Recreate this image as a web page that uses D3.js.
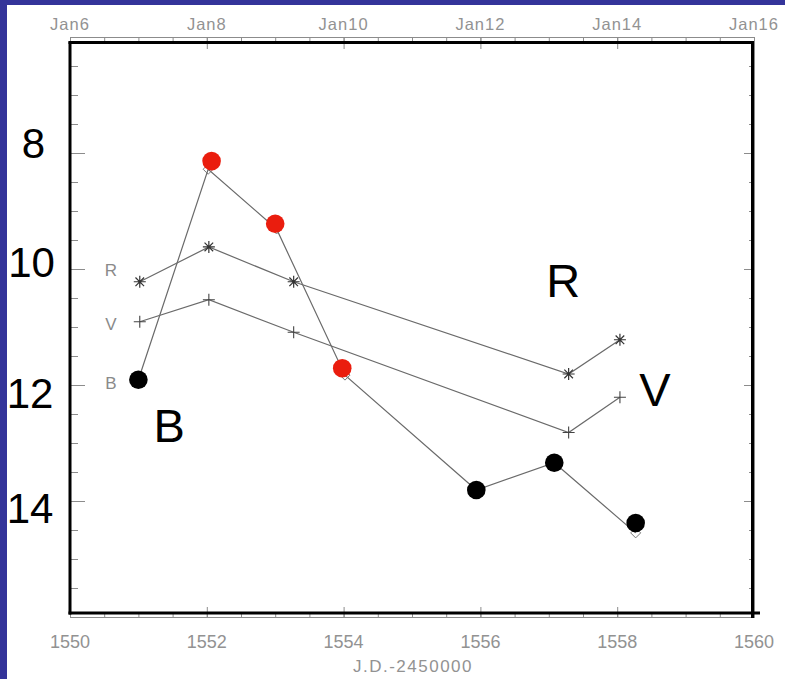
<!DOCTYPE html>
<html><head><meta charset="utf-8">
<script src="https://cdn.jsdelivr.net/npm/d3@7"></script>
<style>html,body{margin:0;padding:0;background:#34349a;}svg{display:block;}text{-webkit-font-smoothing:grayscale;}</style>
</head><body>
<svg id="c" width="785" height="679"></svg>
<script>
// ---- data ----
const xTicks = [1550, 1552, 1554, 1556, 1558, 1560];
const topTickLabels = ["Jan6", "Jan8", "Jan10", "Jan12", "Jan14", "Jan16"];
const yBigLabels = [8, 10, 12, 14];
const rvJD = [1551.02, 1552.03, 1553.27, 1557.29, 1558.04];
const rMag = [10.22, 9.62, 10.22, 11.81, 11.22];
const vMag = [10.91, 10.53, 11.09, 12.82, 12.21];
const bJD  = [1551.0, 1552.02, 1553.02, 1554.02, 1555.94, 1557.08, 1558.27];
const bMag = [11.91, 8.28, 9.31, 11.83, 13.81, 13.34, 14.55];
const dotJD  = [1551.0, 1552.07, 1553.0, 1553.98, 1555.94, 1557.08, 1558.27];
const dotMag = [11.91, 8.14, 9.22, 11.71, 13.81, 13.34, 14.38];
const dotKind = ["black", "red", "red", "red", "black", "black", "black"];
const bandNames = ["R", "V", "B"];
const bandLabelMag = [10.0, 10.93, 11.95];
const bigBandLabels = [["R", 1557.21, 10.48], ["V", 1558.55, 12.36], ["B", 1551.45, 12.98]];

// ---- drawing ----
const svg = d3.select("#c");
svg.append("rect").attr("x", 7).attr("y", 5).attr("width", 778).attr("height", 674).attr("fill", "#fff");

const x = d3.scaleLinear().domain([1550, 1560]).range([70, 754]);
const y = d3.scaleLinear().domain([6, 16]).range([37, 617]);
const gray = "#8c8c8c";
const lineCol = "#6a6a6a";
const tickFont = "Liberation Sans, Arial";
const tickCol = "#929292";

const minor = d3.range(1550, 1560.01, 0.5);
const yMinor = d3.range(6, 16.01, 0.5);

// top axis (original thin axis)
const gTop = svg.append("g").attr("transform", "translate(0,37)");
gTop.call(d3.axisBottom(x).tickValues(minor).tickSize(5).tickFormat(""));
gTop.append("g").call(d3.axisBottom(x).tickValues(xTicks).tickSize(12).tickFormat(""));
gTop.selectAll("path,line").attr("stroke", gray).attr("stroke-width", 1);
svg.append("g").selectAll("text").data(xTicks).join("text")
  .attr("x", d => x(d)).attr("y", 30).attr("text-anchor", "middle")
  .attr("font-family", tickFont).attr("font-size", 16.5).attr("letter-spacing", 1)
  .attr("fill", tickCol).text((d, i) => topTickLabels[i]);

// bottom axis
const gBot = svg.append("g").attr("transform", "translate(0,617)");
gBot.call(d3.axisTop(x).tickValues(minor).tickSize(5).tickFormat(""));
gBot.append("g").call(d3.axisTop(x).tickValues(xTicks).tickSize(10).tickFormat(""));
gBot.selectAll("path,line").attr("stroke", gray).attr("stroke-width", 1);
svg.append("g").selectAll("text").data(xTicks).join("text")
  .attr("x", d => x(d)).attr("y", 648).attr("text-anchor", "middle")
  .attr("font-family", tickFont).attr("font-size", 18)
  .attr("fill", tickCol).text(d => d);
svg.append("text").attr("x", 413).attr("y", 672).attr("text-anchor", "middle")
  .attr("font-family", tickFont).attr("font-size", 17).attr("letter-spacing", 1.5)
  .attr("fill", tickCol).text("J.D.-2450000");

// left/right ticks
const gL = svg.append("g").attr("transform", "translate(70,0)");
gL.call(d3.axisRight(y).tickValues(yMinor.filter(v => v % 2 !== 0)).tickSize(8).tickFormat(""));
gL.append("g").call(d3.axisRight(y).tickValues(d3.range(6, 16.01, 2)).tickSize(15).tickFormat(""));
gL.selectAll("line").attr("stroke", gray);
gL.selectAll("path").remove();
const gR = svg.append("g").attr("transform", "translate(754,0)");
gR.call(d3.axisLeft(y).tickValues(yMinor.filter(v => v % 2 !== 0)).tickSize(5).tickFormat(""));
gR.append("g").call(d3.axisLeft(y).tickValues(d3.range(6, 16.01, 2)).tickSize(10).tickFormat(""));
gR.selectAll("line").attr("stroke", gray);
gR.selectAll("path").attr("stroke", gray);

// thick frame
const fr = svg.append("g").attr("stroke", "#000").attr("stroke-width", 3);
fr.append("line").attr("x1", 70).attr("x2", 70).attr("y1", 41.5).attr("y2", 614.5);
fr.append("line").attr("x1", 68.5).attr("x2", 754).attr("y1", 42.5).attr("y2", 42.5);
fr.append("line").attr("x1", 752.5).attr("x2", 752.5).attr("y1", 41).attr("y2", 618);
fr.append("line").attr("x1", 68.5).attr("x2", 760).attr("y1", 613).attr("y2", 613);

// big y labels
const bigY = [[8, 33.5, 158], [10, 31.5, 277], [12, 30, 408], [14, 30, 523]];
svg.append("g").selectAll("text").data(yBigLabels).join("text")
  .attr("x", (d, i) => bigY[i][1]).attr("y", (d, i) => bigY[i][2])
  .attr("text-anchor", "middle").attr("font-family", "Liberation Sans, Arial")
  .attr("font-size", 42).attr("fill", "#000").text(d => d);

// lines
const line = d3.line().x(d => x(d[0])).y(d => y(d[1]));
const rPts = rvJD.map((j, i) => [j, rMag[i]]);
const vPts = rvJD.map((j, i) => [j, vMag[i]]);
const bPts = bJD.map((j, i) => [j, bMag[i]]);
[rPts, vPts, bPts].forEach(p => svg.append("path").attr("d", line(p))
  .attr("fill", "none").attr("stroke", lineCol).attr("stroke-width", 1.2));

// asterisks (R)
const star = "M-6,0L6,0M0,-6L0,6M-4.3,-4.3L4.3,4.3M-4.3,4.3L4.3,-4.3";
svg.append("g").selectAll("path").data(rPts).join("path")
  .attr("transform", d => `translate(${x(d[0])},${y(d[1])})`).attr("d", star)
  .attr("stroke", "#333").attr("stroke-width", 1.2).attr("fill", "none");
// plus (V)
const plus = "M-6,0L6,0M0,-6L0,6";
svg.append("g").selectAll("path").data(vPts).join("path")
  .attr("transform", d => `translate(${x(d[0])},${y(d[1])})`).attr("d", plus)
  .attr("stroke", "#444").attr("stroke-width", 1.1).attr("fill", "none");
// diamonds (B)
const diam = "M0,-5L5,0L0,5L-5,0Z";
svg.append("g").selectAll("path").data(bPts).join("path")
  .attr("transform", d => `translate(${x(d[0])},${y(d[1])})`).attr("d", diam)
  .attr("stroke", "#777").attr("stroke-width", 1).attr("fill", "none");

// band labels small
svg.append("g").selectAll("text").data(bandNames).join("text")
  .attr("x", 111).attr("y", (d, i) => y(bandLabelMag[i]) + 7).attr("text-anchor", "middle")
  .attr("font-family", tickFont).attr("font-size", 17)
  .attr("fill", "#8a8a8a").text(d => d);

// observed dots
svg.append("g").selectAll("circle").data(dotJD).join("circle")
  .attr("cx", d => x(d)).attr("cy", (d, i) => y(dotMag[i])).attr("r", 9.3)
  .attr("fill", (d, i) => dotKind[i] === "red" ? "#ea1d0e" : "#000");

// big band labels
svg.append("g").selectAll("text").data(bigBandLabels).join("text")
  .attr("x", d => x(d[1])).attr("y", d => y(d[2])).attr("text-anchor", "middle")
  .attr("font-family", "Liberation Sans, Arial").attr("font-size", 47).attr("fill", "#000")
  .text(d => d[0]);
</script>
</body></html>
